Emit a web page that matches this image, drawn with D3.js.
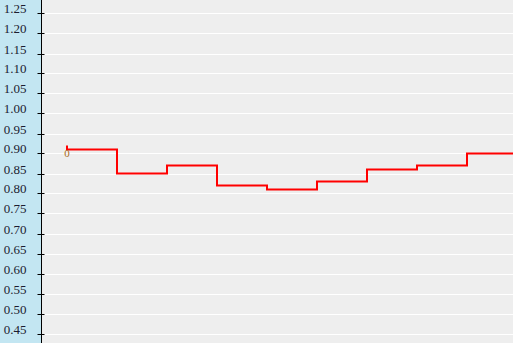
<!DOCTYPE html>
<html>
<head>
<meta charset="utf-8">
<script src="https://cdn.jsdelivr.net/npm/d3@7"></script>
<style>
html, body { margin: 0; padding: 0; background: #eeeeee; }
svg { display: block; }
</style>
</head>
<body>
<svg id="plot"></svg>
<script>
(function() {
"use strict";

// data
var POINTS = [0, 1, 2, 3, 4, 5, 6, 7, 8, 9];
var VALUES = [0.92, 0.91, 0.85, 0.87, 0.82, 0.81, 0.83, 0.86, 0.87, 0.90];
var POINT_LABELS = ["0"];
var YTICKS = [0.45, 0.50, 0.55, 0.60, 0.65, 0.70, 0.75, 0.80, 0.85, 0.90,
              0.95, 1.00, 1.05, 1.10, 1.15, 1.20, 1.25];

var width = 513;
var height = 343;
var axisx = 41.5;

var BAND = "#c3e6f2";
var BG = "#eeeeee";
var GRID = "#ffffff";
var LINE = "#ff0000";
var LABEL = "#a86c20";

var svg = d3.select("#plot")
    .attr("width", width)
    .attr("height", height);

var xscale = d3.scaleLinear().domain([0, 9]).range([67, 517]);
var yscale = d3.scaleLinear().domain([0.42625, 1.28375]).range([height, 0]);

svg.append("rect")
    .attr("x", 0).attr("y", 0)
    .attr("width", width).attr("height", height)
    .attr("fill", BG);
svg.append("rect")
    .attr("x", 0).attr("y", 0)
    .attr("width", axisx).attr("height", height)
    .attr("fill", BAND);

// grid lines
svg.append("g").selectAll("line")
    .data(YTICKS)
    .enter().append("line")
        .attr("x1", axisx + 1)
        .attr("x2", width)
        .attr("y1", function(d) { return Math.round(yscale(d)) + 0.5; })
        .attr("y2", function(d) { return Math.round(yscale(d)) + 0.5; })
        .attr("stroke", GRID)
        .attr("stroke-width", 1);

// y axis
var gy = svg.append("g").attr("transform", "translate(" + axisx + ",0)");
gy.append("line")
    .attr("x1", 0).attr("x2", 0)
    .attr("y1", 0).attr("y2", height)
    .attr("stroke", "#000")
    .attr("stroke-width", 1);
var tick = gy.selectAll("g.tick")
    .data(YTICKS)
    .enter().append("g")
        .attr("class", "tick")
        .attr("transform", function(d) { return "translate(0," + (Math.round(yscale(d)) + 0.5) + ")"; });
tick.append("line")
    .attr("x1", -4).attr("x2", 3)
    .attr("stroke", "#000")
    .attr("stroke-width", 1);
tick.append("text")
    .attr("x", -15)
    .attr("y", -1)
    .attr("text-anchor", "end")
    .attr("font-family", "'Liberation Serif', 'Times New Roman', serif")
    .attr("font-size", 13)
    .attr("fill", "#1c1c30")
    .text(function(d) { return d3.format(".2f")(d); });

// step line
var line = d3.line()
    .x(function(d, i) { return xscale(POINTS[i]); })
    .y(function(d) { return yscale(d); })
    .curve(d3.curveStepBefore);

svg.append("path")
    .datum(VALUES)
    .attr("fill", "none")
    .attr("stroke", LINE)
    .attr("stroke-width", 2)
    .attr("d", line);

svg.append("g").selectAll("text")
    .data(POINT_LABELS)
    .enter().append("text")
        .attr("x", function(d, i) { return xscale(POINTS[i]); })
        .attr("y", function(d, i) { return yscale(VALUES[i + 1]) + 7.5; })
        .attr("text-anchor", "middle")
        .attr("font-family", "'Liberation Serif', 'Times New Roman', serif")
        .attr("font-size", 11)
        .attr("fill", LABEL)
        .text(function(d) { return d; });
}());
</script>
</body>
</html>
